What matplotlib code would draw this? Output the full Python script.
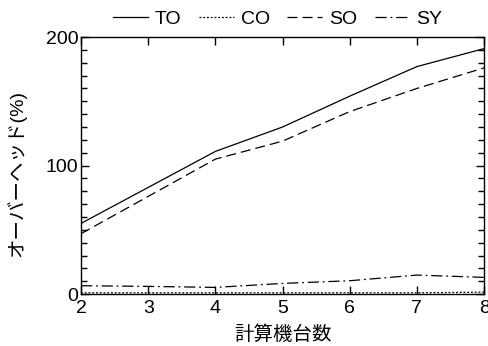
import matplotlib
matplotlib.use("Agg")
import matplotlib.pyplot as plt
from matplotlib.ticker import MultipleLocator

plt.rcParams['font.family'] = ['Liberation Sans', 'Noto Sans CJK JP', 'DejaVu Sans']

machines = [2, 3, 4, 5, 6, 7, 8]
to_vals = [55, 83, 111, 130, 154, 177, 191]
co_vals = [1, 1, 1, 1, 1, 1, 1.5]
so_vals = [47, 76, 105, 119, 142, 160, 176]
sy_vals = [6.5, 6, 5.2, 8.3, 10.4, 14.8, 13]

fig = plt.figure(figsize=(4.88, 3.46), dpi=100)
ax = fig.add_axes([0.166, 0.150, 0.826, 0.743])
lw = 0.9
ax.plot(machines, to_vals, color='black', lw=lw, ls='-', label='TO')
ax.plot(machines, co_vals, color='black', lw=lw, ls=(0, (1.5, 1.5)), label='CO')
ax.plot(machines, so_vals, color='black', lw=lw, ls=(0, (8, 4)), label='SO')
ax.plot(machines, sy_vals, color='black', lw=lw, ls=(0, (9, 3, 1.5, 3)), label='SY')

ax.set_xlim(2, 8)
ax.set_ylim(0, 200)
ax.xaxis.set_major_locator(MultipleLocator(1))
ax.yaxis.set_major_locator(MultipleLocator(100))
ax.yaxis.set_minor_locator(MultipleLocator(10))
ax.tick_params(which='both', direction='in', top=True, right=True, labelsize=14)
ax.tick_params(axis='x', pad=4.5)
ax.tick_params(axis='y', pad=2)
ax.tick_params(which='major', length=5.5, width=1)
ax.tick_params(which='minor', length=4, width=1)
for s in ax.spines.values():
    s.set_linewidth(1)

ax.set_xlabel('計算機台数', fontsize=14, labelpad=6)
ax.set_ylabel('オーバーヘッド(%)', fontsize=14)
ax.yaxis.set_label_coords(-0.135, 0.47)

ax.legend(loc='center', bbox_to_anchor=(0.488, 1.07), ncol=4, frameon=False,
          fontsize=14, handlelength=1.8, handletextpad=0.35, columnspacing=0.9,
          borderaxespad=0, borderpad=0)

fig.savefig('out.png', dpi=100)
